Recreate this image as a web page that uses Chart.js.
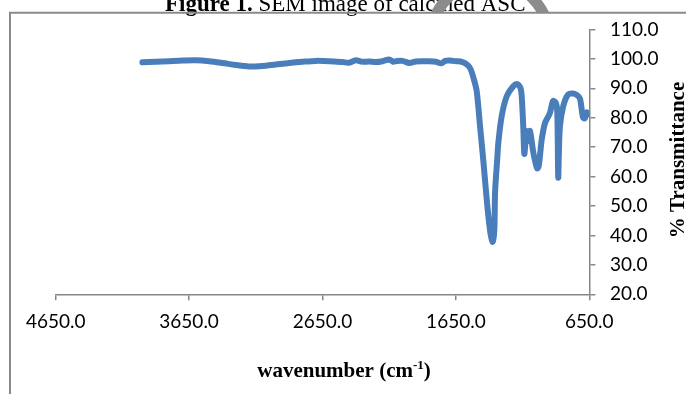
<!DOCTYPE html>
<html>
<head>
<meta charset="utf-8">
<script src="https://cdn.jsdelivr.net/npm/chart.js@4.4.0/dist/chart.umd.min.js"></script>
<style>
html,body{margin:0;padding:0;background:#fff;}
#wrap{width:686px;height:394px;position:relative;}
</style>
</head>
<body>
<div id="wrap"><canvas id="c" width="686" height="394"></canvas></div>
<script>
// ---- data ----
const wavenumbers = [4000,3900,3800,3700,3600,3500,3400,3300,3200,3100,3000,2900,2800,2700,2600,2500,2450,2400,2350,2300,2250,2200,2150,2120,2100,2050,2000,1950,1900,1850,1800,1760,1730,1700,1650,1600,1565,1540,1515,1494,1469,1445,1432,1410,1390,1374,1362,1356,1340,1332,1307,1269,1220,1190,1165,1157,1145,1137,1128,1120,1110,1095,1072,1055,1040,1030,1020,1007,982,945,922,900,890,883,878,870,845,808,772,740,720,697,683,669,657];
const transmittance = [98.8,99.0,99.2,99.4,99.5,99.2,98.6,97.9,97.4,97.6,98.1,98.6,99.0,99.3,99.2,98.9,98.7,99.5,99.0,99.1,98.9,99.2,99.8,99.0,99.2,99.3,98.6,99.1,99.2,99.2,99.0,98.5,99.3,99.4,99.2,98.9,98.0,96.5,93.0,89.0,77.1,65.7,58.9,48.0,40.5,37.8,42.0,55.0,66.0,71.4,80.5,87.3,90.7,91.4,90.0,87.5,77.0,67.7,72.0,75.5,72.1,75.5,68.8,65.0,62.8,63.5,67.0,72.5,78.2,81.6,85.7,85.0,82.0,59.7,68.0,77.1,84.0,87.9,88.2,87.6,86.5,80.1,79.8,81.8,81.2];
const xTicks = [4650,3650,2650,1650,650];
const yTicks = [20,30,40,50,60,70,80,90,100,110];

const points = wavenumbers.map((w,i)=>({x:w,y:transmittance[i]}));
const axisGray = '#868686';

const decor = {
  id:'decor',
  beforeDraw(chart){
    const ctx = chart.ctx;
    ctx.save();
    ctx.fillStyle='#fff';
    ctx.fillRect(0,0,chart.width,chart.height);
    ctx.restore();
  },
  afterDraw(chart){
    const ctx = chart.ctx;
    ctx.save();
    // caption above (cropped)
    ctx.fillStyle='#000';
    ctx.textBaseline='alphabetic';
    ctx.textAlign='left';
    ctx.font='bold 23px "Liberation Serif", serif';
    const p1='Figure 1.';
    let x0=165;
    ctx.fillText(p1,x0,10.5);
    x0+=ctx.measureText(p1).width;
    ctx.font='23px "Liberation Serif", serif';
    ctx.fillText(' SEM image of calcined ASC',x0,10.5);
    // grey curved shape over caption
    ctx.save();
    ctx.beginPath();ctx.rect(0,0,686,12.5);ctx.clip();
    ctx.strokeStyle='#8c8c8c';ctx.lineWidth=11;
    ctx.beginPath();ctx.arc(490,40,59.6,0,Math.PI*2);ctx.stroke();
    ctx.restore();
    // frame lines
    ctx.strokeStyle='#8a8a8a';ctx.lineWidth=2;
    ctx.beginPath();ctx.moveTo(10,394);ctx.lineTo(10,12.7);ctx.lineTo(686,12.7);ctx.stroke();
    // y title
    ctx.fillStyle='#000';
    ctx.save();
    ctx.translate(679,160);
    ctx.rotate(-Math.PI/2);
    ctx.font='bold 21px "Liberation Serif", serif';
    ctx.textAlign='center';ctx.textBaseline='middle';
    ctx.fillText('% Transmittance',0,0);
    ctx.restore();
    // x title with superscript
    const big='bold 21px "Liberation Serif", serif', small='bold 13px "Liberation Serif", serif';
    const a='wavenumber (cm', s='-1', b=')';
    ctx.font=big; const wa=ctx.measureText(a).width, wb=ctx.measureText(b).width;
    ctx.font=small; const ws=ctx.measureText(s).width;
    let sx=344-(wa+ws+wb)/2;
    ctx.textAlign='left';ctx.textBaseline='alphabetic';
    ctx.font=big; ctx.fillText(a,sx,377); sx+=wa;
    ctx.font=small; ctx.fillText(s,sx,369); sx+=ws;
    ctx.font=big; ctx.fillText(b,sx,377);
    ctx.restore();
  }
};

new Chart(document.getElementById('c'),{
  type:'scatter',
  data:{datasets:[{
    data:points,
    showLine:true,
    borderColor:'#4A7EBB',
    borderWidth:6,
    pointRadius:0,
    tension:0.3,
    borderCapStyle:'round',
    borderJoinStyle:'round',
    fill:false
  }]},
  options:{
    responsive:false,
    animation:false,
    devicePixelRatio:1,
    layout:{padding:{left:55.7,top:29.4,right:0,bottom:0}},
    plugins:{legend:{display:false},tooltip:{enabled:false},title:{display:false}},
    scales:{
      x:{
        type:'linear',reverse:true,min:650,max:4650,
        afterBuildTicks(s){s.ticks=xTicks.map(v=>({value:v}));},
        afterFit(s){s.height=99.7;},
        grid:{drawOnChartArea:false,drawTicks:true,tickLength:6,color:axisGray,lineWidth:1.5},
        border:{display:true,color:axisGray,width:1.5},
        ticks:{color:'#000',padding:10,maxRotation:0,autoSkip:false,
          font:{family:'Lato',size:19},
          callback:v=>Number(v).toFixed(1)}
      },
      y:{
        type:'linear',position:'right',min:20,max:110,
        afterBuildTicks(s){s.ticks=yTicks.map(v=>({value:v}));},
        afterFit(s){s.width=96.7;},
        grid:{drawOnChartArea:false,drawTicks:true,tickLength:6,color:axisGray,lineWidth:1.5},
        border:{display:true,color:axisGray,width:1.5},
        ticks:{color:'#000',padding:14.7,autoSkip:false,
          font:{family:'Lato',size:19},
          callback:v=>Number(v).toFixed(1)}
      }
    }
  },
  plugins:[decor]
});
</script>
</body>
</html>
